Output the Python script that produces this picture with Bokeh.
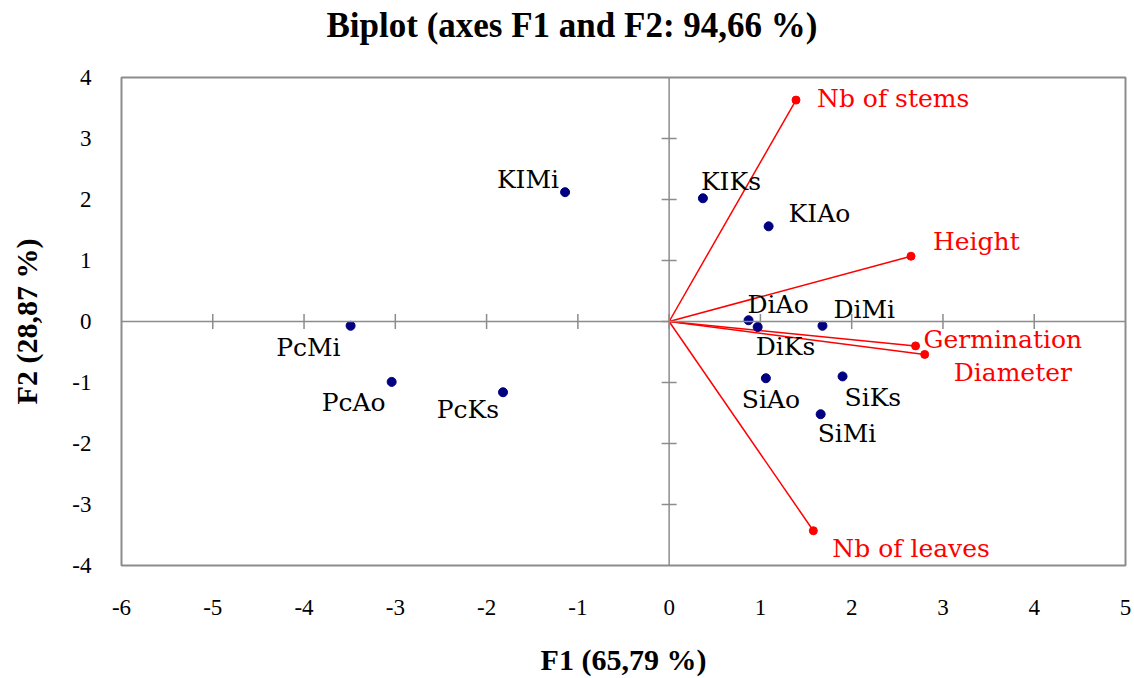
import math
from bokeh.plotting import figure
from bokeh.models import ColumnDataSource, Range1d, FixedTicker, Span, Title
from bokeh.core.properties import value
from bokeh.embed import file_html
from bokeh.resources import INLINE

# ---- data ----
obs_names = ["KIMi", "PcMi", "PcAo", "PcKs", "KIKs", "KIAo",
             "DiAo", "DiKs", "DiMi", "SiAo", "SiKs", "SiMi"]
obs_f1 = [-1.14, -3.49, -3.04, -1.82, 0.37, 1.09, 0.87, 0.97, 1.68, 1.06, 1.90, 1.66]
obs_f2 = [2.12, -0.07, -0.99, -1.16, 2.02, 1.56, 0.02, -0.09, -0.07, -0.93, -0.90, -1.52]

var_names = ["Nb of stems", "Height", "Germination", "Diameter", "Nb of leaves"]
var_f1 = [1.39, 2.65, 2.70, 2.80, 1.58]
var_f2 = [3.63, 1.07, -0.40, -0.54, -3.43]

x_ticks = [-6, -5, -4, -3, -2, -1, 0, 1, 2, 3, 4, 5]
y_ticks = [-4, -3, -2, -1, 0, 1, 2, 3, 4]
x_tick_labels = ["-6", "-5", "-4", "-3", "-2", "-1", "0", "1", "2", "3", "4", "5"]
y_tick_labels = ["-4", "-3", "-2", "-1", "0", "1", "2", "3", "4"]

title_text = "Biplot (axes F1 and F2: 94,66 %)"
x_label = "F1 (65,79 %)"
y_label = "F2 (28,87 %)"

# ---- label placement (screen px: align, dx, dy-down) ----
obs_place = {
    "KIMi": ("right", -6, -13), "PcMi": ("right", -10, 22), "PcAo": ("right", -6, 21),
    "PcKs": ("right", -4, 17), "KIKs": ("left", -2, -17), "KIAo": ("left", 20, -13),
    "DiAo": ("left", -1, -16), "DiKs": ("left", -2, 20), "DiMi": ("left", 11, -16),
    "SiAo": ("center", 5, 21), "SiKs": ("left", 2, 21), "SiMi": ("left", -3, 19),
}
var_place = {
    "Nb of stems": ("left", 21, -2), "Height": ("left", 22, -15),
    "Germination": ("left", 8, -6), "Diameter": ("left", 29, 18),
    "Nb of leaves": ("left", 19, 18),
}

SERIF = "Liberation Serif"
LBL_FONT = "DejaVu Serif"
GRAY = "#8c8c8c"

p = figure(width=1134, height=678, output_backend="svg", toolbar_location=None,
           title=None,
           x_range=Range1d(x_ticks[0], x_ticks[-1]), y_range=Range1d(y_ticks[0], y_ticks[-1]),
           min_border_left=121, min_border_right=9, min_border_top=77, min_border_bottom=113)
p.background_fill_color = "white"
p.border_fill_color = "white"
p.outline_line_color = GRAY
p.outline_line_width = 2
p.grid.visible = False

# spacer between frame and title, then the title itself (further out)
p.add_layout(Title(text=" ", text_font_size="10px", standoff=13, text_color="white"), "above")
p.add_layout(Title(text=title_text, align="left", offset=205, vertical_align="top",
                   standoff=10, text_font=SERIF, text_font_style="bold",
                   text_font_size="35px", text_color="black"), "above")

p.xaxis.ticker = FixedTicker(ticks=x_ticks)
p.yaxis.ticker = FixedTicker(ticks=y_ticks)
p.xaxis.major_label_overrides = {t: s for t, s in zip(x_ticks, x_tick_labels)}
p.yaxis.major_label_overrides = {t: s for t, s in zip(y_ticks, y_tick_labels)}
for ax in (p.xaxis[0], p.yaxis[0]):
    ax.axis_line_color = None
    ax.major_tick_line_color = None
    ax.minor_tick_line_color = None
    ax.major_tick_out = 0
    ax.major_tick_in = 0
    ax.minor_tick_out = 0
    ax.major_label_text_font = SERIF
    ax.major_label_text_font_size = "23px"
    ax.major_label_text_color = "black"
    ax.axis_label_text_font = SERIF
    ax.axis_label_text_font_style = "bold"
    ax.axis_label_text_font_size = "30px"
    ax.axis_label_text_color = "black"
p.xaxis.axis_label = x_label
p.yaxis.axis_label = y_label
p.xaxis.major_label_standoff = 34
p.yaxis.major_label_standoff = 30
p.xaxis.axis_label_standoff = 25
p.yaxis.axis_label_standoff = 26
p.yaxis.major_label_orientation = "horizontal"

# zero lines
p.add_layout(Span(location=0, dimension="width", line_color=GRAY, line_width=1.5))
p.add_layout(Span(location=0, dimension="height", line_color=GRAY, line_width=1.5))
# cross ticks on zero lines
inner_x = x_ticks[1:-1]
inner_y = y_ticks[1:-1]
p.scatter(x=inner_x, y=[0] * len(inner_x), marker="dash", size=15, angle=math.pi / 2,
          line_color=GRAY, line_width=1.5)
p.scatter(x=[0] * len(inner_y), y=inner_y, marker="dash", size=15,
          line_color=GRAY, line_width=1.5)

# variable vectors
p.segment(x0=[0] * len(var_f1), y0=[0] * len(var_f2), x1=var_f1, y1=var_f2,
          line_color="red", line_width=1.5)
p.scatter(x=var_f1, y=var_f2, size=8, fill_color="red", line_color="red")

# observations
p.scatter(x=obs_f1, y=obs_f2, size=9, fill_color="#000080", line_color="#000080")


def add_labels(names, xs, ys, place, color):
    for align in ("left", "right", "center"):
        idx = [i for i, n in enumerate(names) if place[n][0] == align]
        if not idx:
            continue
        src = ColumnDataSource(dict(
            x=[xs[i] for i in idx], y=[ys[i] for i in idx],
            t=[names[i] for i in idx],
            dx=[place[names[i]][1] for i in idx],
            dy=[place[names[i]][2] for i in idx]))
        p.text(x="x", y="y", text="t", source=src, x_offset="dx", y_offset="dy",
               text_align=align, text_baseline="middle", text_color=color,
               text_font=value(LBL_FONT), text_font_size="25px")


add_labels(obs_names, obs_f1, obs_f2, obs_place, "black")
add_labels(var_names, var_f1, var_f2, var_place, "red")

open("out.html", "w").write(file_html(p, INLINE))
